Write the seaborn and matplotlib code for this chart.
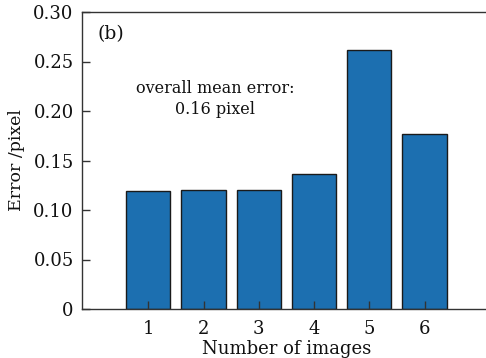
import matplotlib
matplotlib.use("Agg")
import matplotlib.pyplot as plt
import seaborn as sns
import pandas as pd

# Reprojection error for each calibration image
images = [1, 2, 3, 4, 5, 6]
errors = [0.119, 0.120, 0.120, 0.136, 0.262, 0.177]
y_ticks = [0, 0.05, 0.10, 0.15, 0.20, 0.25, 0.30]
y_tick_labels = ["0", "0.05", "0.10", "0.15", "0.20", "0.25", "0.30"]

sns.set_theme(style="white")
plt.rcParams["font.family"] = ["DejaVu Serif"]

df = pd.DataFrame({"image": images, "error": errors})

fig = plt.figure(figsize=(4.86, 3.58), dpi=100)
ax = fig.add_axes([82 / 486, 1 - 309 / 358, 1 - 82 / 486 + 0.01, (309 - 12) / 358])

sns.barplot(data=df, x="image", y="error", order=images, color="#1c6fb0",
            saturation=1, width=0.8, edgecolor="#1a1a1a", linewidth=1.0, ax=ax)

# ticks drawn on top of the bars, pointing inward
ax.set_axisbelow(False)
ax.set_xlim(-1.2, 6.2)
ax.set_ylim(0, 0.30)
ax.set_yticks(y_ticks)
ax.set_yticklabels(y_tick_labels)
ax.tick_params(axis="both", which="major", direction="in", length=6, width=1.0,
               labelsize=13, colors="#333333", labelcolor="#111111",
               left=True, bottom=True, right=False, top=False)
ax.tick_params(axis="x", pad=8)
ax.tick_params(axis="y", pad=6)
ax.set_xlabel("Number of images", fontsize=13, color="#111111", labelpad=1)
ax.set_ylabel("Error /pixel", fontsize=12.5, color="#111111", labelpad=6)

for side in ["left", "bottom", "top"]:
    ax.spines[side].set_color("#333333")
    ax.spines[side].set_linewidth(1.0)
ax.spines["right"].set_visible(False)

ax.text(0.037, 0.955, "(b)", transform=ax.transAxes, fontsize=13.5,
        ha="left", va="top", color="#111111")
ax.text(0.3265, 0.707, "overall mean error:\n0.16 pixel", transform=ax.transAxes,
        fontsize=11.5, ha="center", va="center", color="#111111", linespacing=1.25)

fig.savefig("out.png", dpi=100)
